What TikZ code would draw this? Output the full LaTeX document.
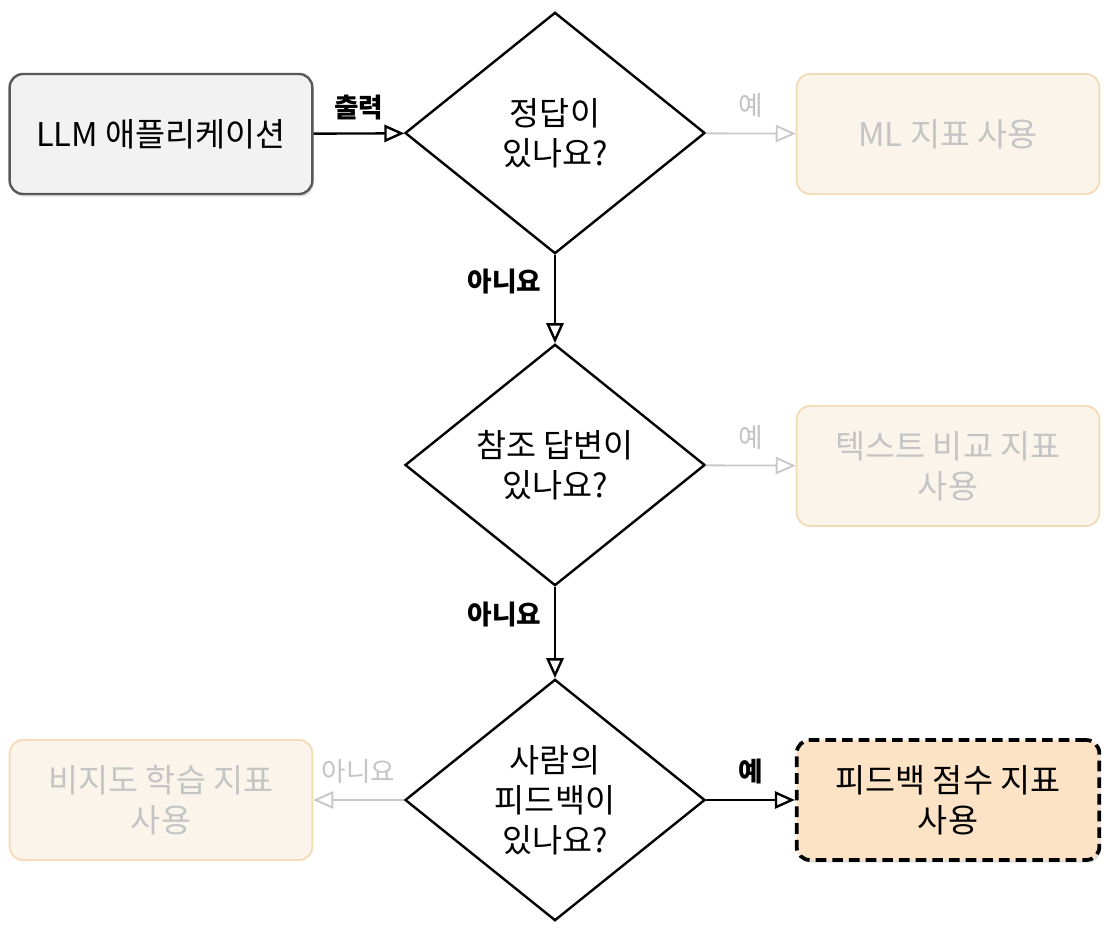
\documentclass[tikz,border=0pt]{standalone}
\usepackage{fontspec}
\setmainfont{Noto Sans CJK KR}
\usetikzlibrary{shapes.geometric,arrows.meta,shadows}
\definecolor{fadetxt}{HTML}{C4C4C4}
\definecolor{fadeln}{HTML}{C8C8C8}
\definecolor{fadefill}{HTML}{FBF4EA}
\definecolor{fadedraw}{HTML}{F2DDB8}
\definecolor{hlfill}{HTML}{FDE3C6}
\begin{document}
\begin{tikzpicture}[x=0.75pt,y=-0.75pt,
  box/.style={rectangle,rounded corners=10pt,minimum width=227pt,minimum height=90pt,align=center,font=\fontsize{24.5}{30}\selectfont},
  main/.style={box,fill=gray!10,draw=black!65,line width=1.8pt,drop shadow={opacity=0.25,shadow xshift=1pt,shadow yshift=-2pt}},
  faded/.style={box,fill=fadefill,draw=fadedraw,line width=1.4pt,text=fadetxt},
  hl/.style={box,fill=hlfill,draw=black,line width=2.8pt,dash pattern=on 8pt off 4.5pt,drop shadow={opacity=0.25,shadow xshift=1pt,shadow yshift=-2pt}},
  dia/.style={diamond,draw=black,line width=1.8pt,fill=white,minimum width=225pt,minimum height=181pt,inner sep=0pt,align=center,font=\fontsize{24.5}{30}\selectfont},
  arr/.style={-{Triangle[open,length=15pt,width=13pt]},line width=1.8pt},
  farr/.style={arr,draw=fadeln,line width=1.4pt},
  lbl/.style={font=\bfseries\fontsize{20}{24}\selectfont},
  flbl/.style={font=\fontsize{20}{24}\selectfont,text=fadetxt}]
\useasboundingbox[fill=white] (0,0) rectangle (1120,944);
\node[main] (llm) at (161,134) {LLM 애플리케이션};
\node[dia] (d1) at (555,133) {정답이\\있나요?};
\node[faded] (ml) at (948,134) {ML 지표 사용};
\node[dia] (d2) at (555,465) {참조 답변이\\있나요?};
\node[faded] (txt) at (948,466) {텍스트 비교 지표\\사용};
\node[dia] (d3) at (555,800) {사람의\\피드백이\\있나요?};
\node[faded] (uns) at (161,800) {비지도 학습 지표\\사용};
\node[hl] (fb) at (948,800) {피드백 점수 지표\\사용};
\draw[arr] (llm) -- node[lbl,above=6pt]{출력} (d1);
\draw[farr] (d1) -- node[flbl,above=8pt]{예} (ml);
\draw[arr] (d1) -- node[lbl,pos=0.3,left=6pt]{아니요} (d2);
\draw[farr] (d2) -- node[flbl,above=8pt]{예} (txt);
\draw[arr] (d2) -- node[lbl,pos=0.3,left=6pt]{아니요} (d3);
\draw[farr] (d3) -- node[flbl,above=8pt]{아니요} (uns);
\draw[arr] (d3) -- node[lbl,above=8pt]{예} (fb);
\end{tikzpicture}
\end{document}
